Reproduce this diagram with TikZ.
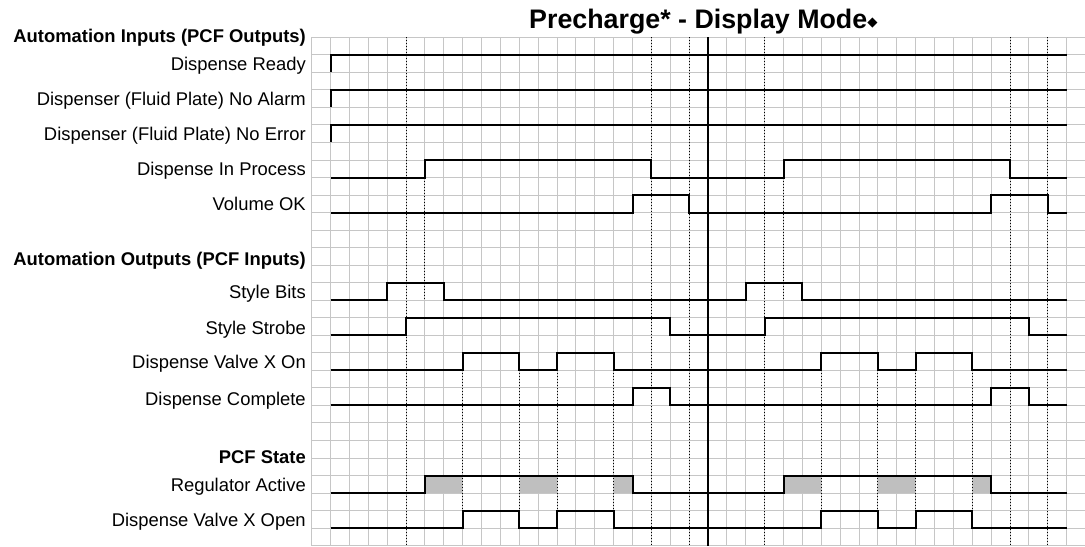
\documentclass[tikz,border=0pt]{standalone}
\usepackage{fontspec}
\setmainfont{Liberation Sans}
\newfontfamily\symfont{DejaVu Sans}
\usetikzlibrary{positioning}
\definecolor{cGrid}{HTML}{C6C6C6}
\definecolor{cShade}{HTML}{BFBFBF}
\tikzset{
  gridline/.style={draw=cGrid, line width=0.75pt},
  sig/.style     ={draw=black, line width=1.5pt, line join=miter},
  marker/.style  ={draw=black, line width=0.75pt, dash pattern=on 0.75pt off 1.5pt},
  divider/.style ={draw=black, line width=1.5pt},
  shade/.style   ={fill=cShade},
  lbl/.style     ={anchor=base east, inner sep=0pt, font=\fontsize{13.8}{16}\selectfont},
  hdr/.style     ={lbl, font=\fontsize{13.8}{16}\selectfont\bfseries},
  ttl/.style     ={anchor=base west, inner sep=0pt, font=\fontsize{20.1}{24}\selectfont\bfseries},
}
\begin{document}
\begin{tikzpicture}[x=14.15625pt, y=-13.1475pt]
  \useasboundingbox (-16.514,-2.128) rectangle (40.97,29.076);

  % ---- grid ----
  \foreach \r in {0,...,29} \draw[gridline] (0,\r) -- (40.97,\r);
  \foreach \c in {0,...,40} \draw[gridline] (\c,0) -- (\c,29);

  % ---- regulator shading ----
  \foreach \a/\b in {6/8,11/13,16/17,25/27,30/32,35/36}
    \fill[shade] (\a,25) rectangle (\b,26);

  % ---- event markers ----
  \foreach \c in {5,18,20,24,37,39} \draw[marker] (\c,0) -- (\c,29);
  \foreach \c in {6,25} \draw[marker] (\c,8) -- (\c,15);
  \foreach \c in {8,11,13,16,27,30,32,35} \draw[marker] (\c,19) -- (\c,27);
  \draw[divider] (21,0) -- (21,29);

  % ---- title ----
  \node[ttl] (title) at (11.51,-0.51)
    {Precharge* - Display Mode\raisebox{1.6pt}{\symfont\fontsize{10}{10}\selectfont ◆}};

  % ---- automation inputs ----
  \node[hdr] (hdrIn)   at (-0.3,0.27) {Automation Inputs (PCF Outputs)};
  \node[lbl] (ready)   at (-0.3,1.9)  {Dispense Ready};
  \node[lbl] (alarm)   at (-0.3,3.9)  {Dispenser (Fluid Plate) No Alarm};
  \node[lbl] (error)   at (-0.3,5.9)  {Dispenser (Fluid Plate) No Error};
  \node[lbl] (inproc)  at (-0.3,7.9)  {Dispense In Process};
  \node[lbl] (volok)   at (-0.3,9.9)  {Volume OK};

  \draw[sig] (1,2) -- (1,1) -- (40,1);
  \draw[sig] (1,4) -- (1,3) -- (40,3);
  \draw[sig] (1,6) -- (1,5) -- (40,5);
  \draw[sig] (1,8) -- (6,8) -- (6,7) -- (18,7) -- (18,8) -- (25,8) -- (25,7)
    -- (37,7) -- (37,8) -- (40,8);
  \draw[sig] (1,10) -- (17,10) -- (17,9) -- (20,9) -- (20,10) -- (36,10)
    -- (36,9) -- (39,9) -- (39,10) -- (40,10);

  % ---- automation outputs ----
  \node[hdr] (hdrOut)  at (-0.3,13.0) {Automation Outputs (PCF Inputs)};
  \node[lbl] (bits)    at (-0.3,14.9) {Style Bits};
  \node[lbl] (strobe)  at (-0.3,16.95) {Style Strobe};
  \node[lbl] (valveOn) at (-0.3,18.9) {Dispense Valve X On};
  \node[lbl] (complete) at (-0.3,21.0) {Dispense Complete};

  \draw[sig] (1,15) -- (4,15) -- (4,14) -- (7,14) -- (7,15) -- (23,15)
    -- (23,14) -- (26,14) -- (26,15) -- (40,15);
  \draw[sig] (1,17) -- (5,17) -- (5,16) -- (19,16) -- (19,17) -- (24,17)
    -- (24,16) -- (38,16) -- (38,17) -- (40,17);
  \draw[sig] (1,19) -- (8,19) -- (8,18) -- (11,18) -- (11,19) -- (13,19)
    -- (13,18) -- (16,18) -- (16,19) -- (27,19) -- (27,18) -- (30,18)
    -- (30,19) -- (32,19) -- (32,18) -- (35,18) -- (35,19) -- (40,19);
  \draw[sig] (1,21) -- (17,21) -- (17,20) -- (19,20) -- (19,21) -- (36,21)
    -- (36,20) -- (38,20) -- (38,21) -- (40,21);

  % ---- PCF state ----
  \node[hdr] (hdrState) at (-0.3,24.3) {PCF State};
  \node[lbl] (regul)    at (-0.3,25.9) {Regulator Active};
  \node[lbl] (valveOpen) at (-0.3,27.9) {Dispense Valve X Open};

  \draw[sig] (1,26) -- (6,26) -- (6,25) -- (17,25) -- (17,26) -- (25,26)
    -- (25,25) -- (36,25) -- (36,26) -- (40,26);
  \draw[sig] (1,28) -- (8,28) -- (8,27) -- (11,27) -- (11,28) -- (13,28)
    -- (13,27) -- (16,27) -- (16,28) -- (27,28) -- (27,27) -- (30,27)
    -- (30,28) -- (32,28) -- (32,27) -- (35,27) -- (35,28) -- (40,28);

\end{tikzpicture}
\end{document}
